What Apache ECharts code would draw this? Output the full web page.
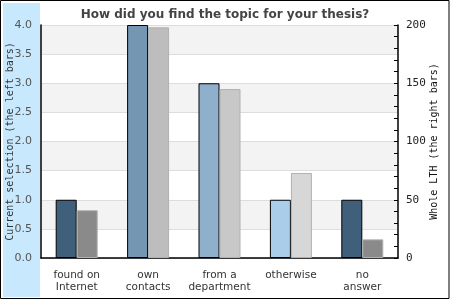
<!DOCTYPE html>
<html><head><meta charset="utf-8">
<script src="https://cdn.jsdelivr.net/npm/echarts@6/dist/echarts.min.js"></script>
<style>html,body{margin:0;padding:0;background:#fff}#c{width:450px;height:300px}</style>
</head><body><div id="c"></div>
<script>
var categories = ['found on\nInternet', 'own\ncontacts', 'from a\ndepartment', 'otherwise', 'no\nanswer'];
var currentValues = [1, 4, 3, 1, 1];
var wholeValues = [41, 198, 145, 73, 16];
var leftColors = ['#3f5f7b', '#7496b2', '#8fb0cc', '#aacde9', '#3f5f7b'];
var rightColors = ['#8a8a8a', '#bdbdbd', '#c8c8c8', '#d7d7d7', '#8a8a8a'];

var chart = echarts.init(document.getElementById('c'), null, {renderer: 'canvas'});
chart.setOption({
  animation: false,
  backgroundColor: '#fff',
  graphic: [
    {type: 'rect', z: -10, silent: true, shape: {x: 3, y: 3, width: 37, height: 294}, style: {fill: '#c8e8fe'}},
    {type: 'rect', z: 100, silent: true, shape: {x: 0.5, y: 0.5, width: 448.5, height: 298}, style: {fill: 'none', stroke: '#000', lineWidth: 1}}
  ],
  title: {
    text: 'How did you find the topic for your thesis?',
    left: 'center', top: 4,
    textStyle: {fontFamily: 'DejaVu Sans', fontSize: 12, fontWeight: 'bold', color: '#444'}
  },
  grid: {left: 41, right: 52, top: 25, bottom: 42, containLabel: false, outerBoundsMode: 'none'},
  xAxis: {
    type: 'category', data: categories,
    axisLine: {lineStyle: {color: '#000', width: 1.5}},
    axisTick: {show: false},
    axisLabel: {interval: 0, hideOverlap: false, fontFamily: 'DejaVu Sans', fontSize: 10.5, color: '#333', margin: 11, lineHeight: 12}
  },
  yAxis: [
    {
      type: 'value', min: 0, max: 4, interval: 0.5,
      name: 'Current selection (the left bars)', nameLocation: 'middle', nameGap: 26, nameMoveOverlap: false,
      nameTextStyle: {fontFamily: 'DejaVu Sans Mono', fontSize: 10, color: '#333'},
      axisLine: {show: true, lineStyle: {color: '#000', width: 1.5}},
      axisTick: {show: false},
      axisLabel: {fontFamily: 'DejaVu Sans', fontSize: 11, color: '#555', margin: 9,
        formatter: function (v) { return v.toFixed(1); }},
      splitLine: {show: true, lineStyle: {color: '#dddddd'}},
      splitArea: {show: true, areaStyle: {color: ['#ffffff', '#f3f3f3']}}
    },
    {
      type: 'value', min: 0, max: 200, interval: 50,
      name: 'Whole LTH (the right bars)', nameLocation: 'middle', nameGap: 31, nameMoveOverlap: false,
      nameTextStyle: {fontFamily: 'DejaVu Sans Mono', fontSize: 10, color: '#111'},
      axisLine: {show: true, lineStyle: {color: '#000', width: 1.5}},
      axisTick: {show: true, inside: true, length: 4, lineStyle: {color: '#000'}},
      minorTick: {show: true, splitNumber: 5, length: 4, lineStyle: {color: '#000'}},
      axisLabel: {fontFamily: 'DejaVu Sans Mono', fontSize: 11, color: '#222', margin: 8},
      splitLine: {show: false}
    }
  ],
  series: [
    {
      type: 'bar', yAxisIndex: 0, data: currentValues.map(function (v, i) {
        return {value: v, itemStyle: {color: leftColors[i]}};
      }),
      barWidth: 21, barGap: '0%',
      itemStyle: {borderColor: '#000', borderWidth: 1}
    },
    {
      type: 'bar', yAxisIndex: 1, data: wholeValues.map(function (v, i) {
        return {value: v, itemStyle: {color: rightColors[i]}};
      }),
      barWidth: 21, barGap: '0%',
      itemStyle: {borderColor: '#b0b0b0', borderWidth: 1}
    }
  ]
});
</script></body></html>
